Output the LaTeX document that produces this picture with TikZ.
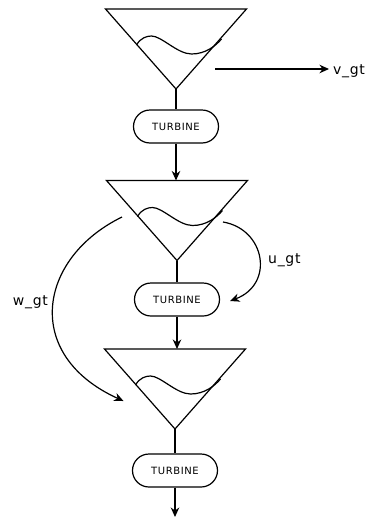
\documentclass[tikz,border=0pt]{standalone}
\usepackage{fontspec}
\setmainfont{DejaVu Sans}
\usetikzlibrary{arrows.meta,shapes.misc}
\tikzset{
  line/.style={line width=1.2pt, line join=miter},
  arr/.style={line width=1.2pt, -{Stealth[length=9.5pt,width=8.5pt,inset=3pt]}},
  turbine/.style={draw, line width=1.2pt, rounded rectangle, minimum width=85pt, minimum height=33pt, inner sep=0pt,
    font=\fontsize{10}{12}\selectfont\addfontfeature{LetterSpace=6}},
  lab/.style={inner sep=0pt, anchor=base west, font=\fontsize{14}{16}\selectfont\addfontfeature{LetterSpace=5}},
  funnel/.pic={
    \draw[line] (0,0) -- (141,0) -- (70.5,80) -- cycle;
    \coordinate (-apex) at (70.5,80);
    \coordinate (-top) at (70.5,0);
    \draw[line] (31,36) .. controls (35,29) and (41,27) .. (46,27)
      .. controls (56,27) and (72,45) .. (86,45)
      .. controls (100,45) and (110,37) .. (116,30);
  }
}
\begin{document}
\begin{tikzpicture}[x=1pt,y=-1pt]
\useasboundingbox (0,0) rectangle (365,517);
% funnels
\pic (f1) at (105.5,9) {funnel};
\pic (f2) at (106.5,180.5) {funnel};
\pic (f3) at (104.5,349) {funnel};
% turbines
\node[turbine] (t1) at (176,126.5) {TURBINE};
\node[turbine] (t2) at (177,299.5) {TURBINE};
\node[turbine] (t3) at (175,470.5) {TURBINE};
% vertical connectors
\draw[line] (f1-apex) -- (t1.north);
\draw[arr] (t1.south) -- (t1.south |- f2-top);
\draw[line] (f2-apex) -- (t2.north);
\draw[arr] (t2.south) -- (t2.south |- f3-top);
\draw[line] (f3-apex) -- (t3.north);
\coordinate (out) at (175,517);
\draw[arr] (t3.south) -- (out);
% v_gt
\coordinate (vs) at (215,69);
\node[lab] (vl) at (333,74) {v\_gt};
\draw[arr] (vs) -- (vs -| 329,0);
% u_gt
\coordinate (us) at (223,222);
\coordinate (ue) at (230,301);
\draw[arr] (us) .. controls (265,229) and (275,284) .. (ue);
\node[lab] (ul) at (268,263.3) {u\_gt};
% w_gt
\coordinate (ws) at (122,217);
\coordinate (we) at (123.5,401);
\draw[arr] (ws) .. controls (38,258) and (22,355) .. (we);
\node[lab] (wl) at (12.7,305.7) {w\_gt};
\end{tikzpicture}
\end{document}
